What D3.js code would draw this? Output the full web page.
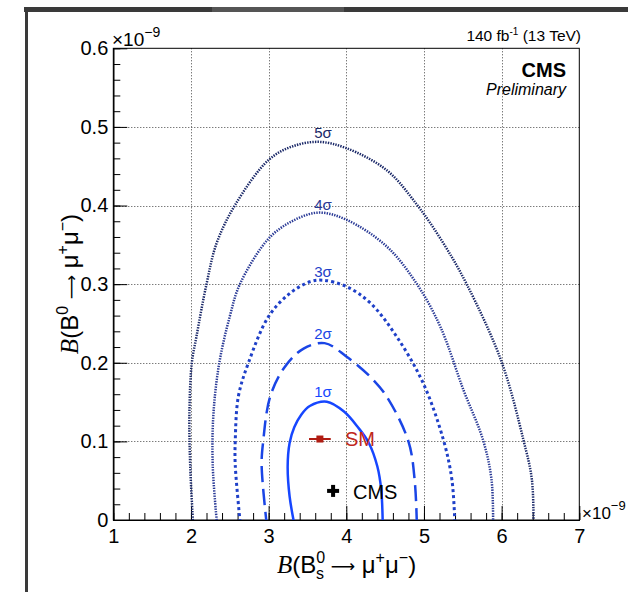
<!DOCTYPE html>
<html>
<head>
<meta charset="utf-8">
<script src="https://cdn.jsdelivr.net/npm/d3@7"></script>
<style>
  html, body { margin: 0; padding: 0; background: #fff; }
  svg { display: block; font-family: "Liberation Sans", Arial, Helvetica, sans-serif; }
</style>
</head>
<body>
<div id="chart"></div>
<script>
// axis ticks
const xMajor = [1, 2, 3, 4, 5, 6, 7];
const yMajor = [0, 0.1, 0.2, 0.3, 0.4, 0.5, 0.6];
const yLabels = ["0", "0.1", "0.2", "0.3", "0.4", "0.5", "0.6"];

// contour lines, [B(Bs), B(B0)] in units of 1e-9
const sigma1 = [[3.34, -0.01], [3.27, 0.03], [3.245, 0.068], [3.27, 0.098], [3.33, 0.118], [3.42, 0.134], [3.53, 0.145], [3.75, 0.1505], [3.97, 0.138], [4.15, 0.118], [4.29, 0.098], [4.40, 0.068], [4.45, 0.038], [4.47, -0.01]];
const sigma2 = [[2.98, -0.01], [2.91, 0.07], [2.93, 0.10], [3.02, 0.157], [3.21, 0.195], [3.45, 0.218], [3.72, 0.225], [4.0, 0.208], [4.31, 0.182], [4.52, 0.157], [4.80, 0.10], [4.88, 0.051], [4.91, -0.01]];
const sigma3 = [[2.64, -0.01], [2.57, 0.07], [2.57, 0.10], [2.61, 0.157], [2.74, 0.20], [3.0, 0.259], [3.27, 0.288], [3.53, 0.303], [3.70, 0.305], [4.0, 0.297], [4.31, 0.276], [4.65, 0.233], [4.99, 0.174], [5.25, 0.102], [5.36, 0.051], [5.40, -0.01]];
const sigma4 = [[2.34, -0.01], [2.28, 0.07], [2.29, 0.136], [2.365, 0.20], [2.50, 0.259], [2.63, 0.30], [3.0, 0.358], [3.3, 0.38], [3.64, 0.391], [4.0, 0.382], [4.52, 0.348], [4.91, 0.30], [5.21, 0.246], [5.51, 0.165], [5.76, 0.102], [5.87, 0.051], [5.89, -0.01]];
const sigma5 = [[2.03, -0.01], [1.99, 0.07], [1.98, 0.136], [2.01, 0.199], [2.07, 0.233], [2.20, 0.30], [2.33, 0.352], [2.57, 0.401], [3.0, 0.458], [3.3, 0.475], [3.64, 0.481], [4.0, 0.473], [4.52, 0.445], [4.91, 0.401], [5.25, 0.352], [5.55, 0.30], [6.0, 0.201], [6.28, 0.102], [6.39, 0.051], [6.41, -0.01]];

const contourNames = ["1σ", "2σ", "3σ", "4σ", "5σ"];
const contourLabelPos = [[3.70, 0.157], [3.70, 0.230], [3.70, 0.3095], [3.70, 0.394], [3.70, 0.486]];

// points
const smPoint = [3.66, 0.103];
const smErrX = [3.52, 3.80];
const cmsPoint = [3.83, 0.037];

const w = 628;
const h = 592;
const padLeft = 113.3, padRight = 579.3, padTop = 48.3, padBottom = 520;

const x = d3.scaleLinear().domain([1, 7]).range([padLeft, padRight]);
const y = d3.scaleLinear().domain([0, 0.6]).range([padBottom, padTop]);

const svg = d3.select('#chart')
  .append('svg')
  .attr('width', w)
  .attr('height', h);

// window frame of the screenshot
svg.append('rect').attr('x', 24).attr('y', 7).attr('width', 604).attr('height', 5).attr('fill', '#3a3a3a');
svg.append('rect').attr('x', 212).attr('y', 7).attr('width', 132).attr('height', 5).attr('fill', '#555');
svg.append('rect').attr('x', 25).attr('y', 7).attr('width', 3).attr('height', 585).attr('fill', '#3a3a3a');

svg.append('clipPath').attr('id', 'plotclip')
  .append('rect').attr('x', padLeft).attr('y', padTop).attr('width', padRight - padLeft).attr('height', padBottom - padTop);

// grid
const grid = svg.append('g').attr('stroke', '#444').attr('stroke-width', 1).attr('stroke-dasharray', '1,2');
grid.selectAll('line.gx').data(xMajor.slice(1, -1)).enter().append('line')
  .attr('x1', d => Math.round(x(d)) + 0.5).attr('x2', d => Math.round(x(d)) + 0.5)
  .attr('y1', padTop).attr('y2', padBottom);
grid.selectAll('line.gy').data(yMajor.slice(1, -1)).enter().append('line')
  .attr('y1', d => Math.round(y(d)) + 0.5).attr('y2', d => Math.round(y(d)) + 0.5)
  .attr('x1', padLeft).attr('x2', padRight);

// axes: ticks point inward
const xMinor = d3.range(1, 7.001, 0.2);
const yMinor = d3.range(0, 0.6001, 0.02);

svg.append('g')
  .attr('transform', 'translate(0,' + padBottom + ')')
  .call(d3.axisBottom(x).tickValues(xMinor).tickSize(-7).tickSizeOuter(0).tickFormat(''));
svg.append('g')
  .attr('transform', 'translate(' + padLeft + ',0)')
  .call(d3.axisLeft(y).tickValues(yMinor).tickSize(-7).tickSizeOuter(0).tickFormat(''));

const xAxis = svg.append('g')
  .attr('transform', 'translate(0,' + padBottom + ')')
  .call(d3.axisBottom(x).tickValues(xMajor).tickSize(-14).tickSizeOuter(0).tickPadding(9).tickFormat(d3.format('d')));
const yAxis = svg.append('g')
  .attr('transform', 'translate(' + padLeft + ',0)')
  .call(d3.axisLeft(y).tickValues(yMajor).tickSize(-14).tickSizeOuter(0).tickPadding(5).tickFormat((d, i) => yLabels[i]));

svg.selectAll('.tick line, .domain').attr('stroke', '#000');
[xAxis, yAxis].forEach(a => a.selectAll('text')
  .attr('font-size', 20).attr('fill', '#000')
  .attr('font-family', '"Liberation Sans", Arial, sans-serif'));

// frame
svg.append('rect')
  .attr('x', padLeft).attr('y', padTop).attr('width', padRight - padLeft).attr('height', padBottom - padTop)
  .attr('fill', 'none').attr('stroke', '#000').attr('stroke-width', 1);

// contours
const line = d3.line()
  .x(d => x(d[0]))
  .y(d => y(d[1]))
  .curve(d3.curveCatmullRom.alpha(0.5));

const contours = [sigma1, sigma2, sigma3, sigma4, sigma5];
const colors = ['#1646ff', '#1a45e6', '#1f40c8', '#2a3a96', '#1a2868'];
const widths = [2.5, 2.5, 3, 2.5, 2.5];
const dashes = [null, '16,7', '3,3', '1.4,1.2', '1.4,1.2'];

const cg = svg.append('g').attr('clip-path', 'url(#plotclip)');
contours.forEach((c, i) => {
  cg.append('path')
    .attr('d', line(c))
    .attr('fill', 'none')
    .attr('stroke', colors[i])
    .attr('stroke-width', widths[i])
    .attr('stroke-dasharray', dashes[i]);
});

svg.selectAll('text.clabel')
  .data(contourNames)
  .enter()
  .append('text')
  .attr('class', 'clabel')
  .attr('x', (d, i) => x(contourLabelPos[i][0]))
  .attr('y', (d, i) => y(contourLabelPos[i][1]))
  .attr('text-anchor', 'middle')
  .attr('font-size', 15)
  .attr('fill', (d, i) => colors[i])
  .text(d => d);

// SM point
svg.append('line')
  .attr('x1', x(smErrX[0])).attr('x2', x(smErrX[1]))
  .attr('y1', y(smPoint[1])).attr('y2', y(smPoint[1]))
  .attr('stroke', '#b01c12').attr('stroke-width', 2);
svg.append('rect')
  .attr('x', x(smPoint[0]) - 3.5).attr('y', y(smPoint[1]) - 3.5)
  .attr('width', 7).attr('height', 7)
  .attr('fill', '#b01c12');
svg.append('text')
  .attr('x', 345).attr('y', y(smPoint[1]) + 7)
  .attr('font-size', 20).attr('fill', '#c0281c')
  .text('SM');

// CMS point
const cx = x(cmsPoint[0]), cy = y(cmsPoint[1]);
svg.append('rect').attr('x', cx - 6).attr('y', cy - 2).attr('width', 12).attr('height', 4).attr('fill', '#000');
svg.append('rect').attr('x', cx - 2).attr('y', cy - 6).attr('width', 4).attr('height', 12).attr('fill', '#000');
svg.append('text')
  .attr('x', 353).attr('y', cy + 8)
  .attr('font-size', 20).attr('fill', '#000')
  .text('CMS');

// rich text helper: parts [text, size, shift(up), style, dx]
function rich(t, parts) {
  let prev = 0;
  parts.forEach(p => {
    const ts = t.append('tspan').text(p[0]).attr('font-size', p[1]);
    const shift = p[2] || 0;
    ts.attr('dy', prev - shift);
    prev = shift;
    if (p[3] === 'it') ts.attr('font-style', 'italic').attr('font-family', '"Liberation Serif", "Times New Roman", serif');
    if (p[3] === 'sym') ts.attr('font-family', '"DejaVu Sans", sans-serif');
    if (p[4]) ts.attr('dx', p[4]);
  });
}

// exponents
rich(svg.append('text').attr('x', 112).attr('y', 46),
  [['×10', 19], ['−9', 14, 9]]);
rich(svg.append('text').attr('x', 582).attr('y', 519),
  [['×10', 17], ['−9', 13, 9]]);

// axis titles
const xTitle = [['B', 25, 0, 'it'], ['(B', 24], ['0', 16, 10], ['s', 16, -6, null, -9], [' ', 24], ['⟶', 17, 1, 'sym'], [' μ', 24], ['+', 16, 10], ['μ', 24], ['−', 16, 10], [')', 24]];
const yTitle = [['B', 25, 0, 'it'], ['(B', 24], ['0', 16, 10], [' ', 24], ['⟶', 17, 1, 'sym'], [' μ', 24], ['+', 16, 10], ['μ', 24], ['−', 16, 10], [')', 24]];
rich(svg.append('text').attr('x', 346.5).attr('y', 573).attr('text-anchor', 'middle'), xTitle);
rich(svg.append('text').attr('transform', 'translate(78,284) rotate(-90)').attr('text-anchor', 'middle'), yTitle);

// header texts
rich(svg.append('text').attr('x', 581).attr('y', 41).attr('text-anchor', 'end'),
  [['140 fb', 15.5], ['-1', 10, 6], [' (13 TeV)', 15.5]]);
svg.append('text').attr('x', 566).attr('y', 77).attr('text-anchor', 'end')
  .attr('font-size', 20).attr('font-weight', 'bold').text('CMS');
svg.append('text').attr('x', 566).attr('y', 95).attr('text-anchor', 'end')
  .attr('font-size', 16).attr('font-style', 'italic').text('Preliminary');
</script>
</body>
</html>
